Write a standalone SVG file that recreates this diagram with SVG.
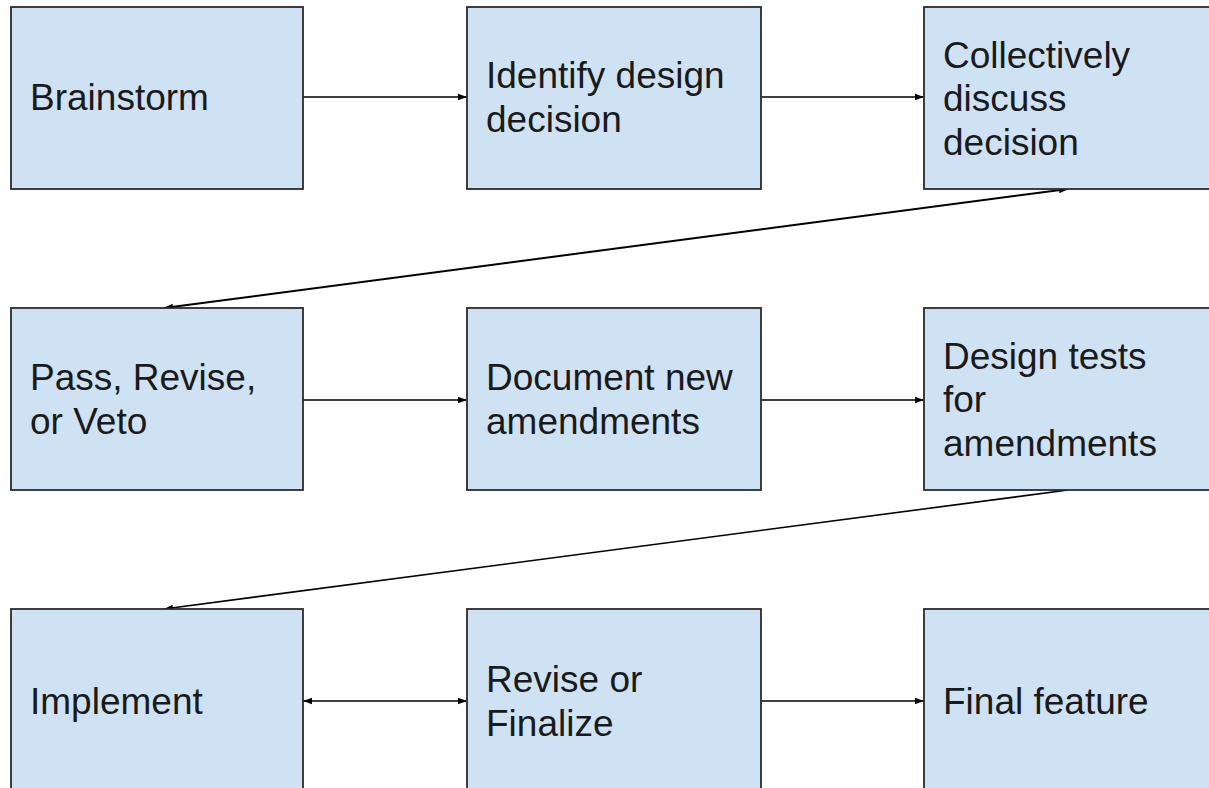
<svg xmlns="http://www.w3.org/2000/svg" width="1209" height="788" viewBox="0 0 1209 788">
<defs>
<style>
.box{fill:#cfe2f3;stroke:#2b2b2b;stroke-width:1.8}
.t{font-family:"Liberation Sans",Arial,sans-serif;font-size:37px;fill:#1a1a1a}
.c{fill:none;stroke:#000;stroke-width:1.6}
</style>
<marker id="ah" viewBox="0 0 10 10" refX="10" refY="5" markerWidth="10" markerHeight="9" orient="auto-start-reverse" markerUnits="userSpaceOnUse">
<path d="M0,1.5 L10,5 L0,8.5 z" fill="#000"/>
</marker>
</defs>
<rect width="1209" height="788" fill="#fff"/>
<g id="connectors">
<line class="c" x1="303" y1="97" x2="467" y2="97" marker-end="url(#ah)"/>
<line class="c" x1="761" y1="97" x2="924" y2="97" marker-end="url(#ah)"/>
<line class="c" style="stroke-width:2" x1="1068" y1="189" x2="164" y2="308" marker-start="url(#ah)" marker-end="url(#ah)"/>
<line class="c" x1="303" y1="400" x2="467" y2="400" marker-end="url(#ah)"/>
<line class="c" x1="761" y1="400" x2="924" y2="400" marker-end="url(#ah)"/>
<line class="c" x1="1068" y1="490" x2="164" y2="609" marker-end="url(#ah)"/>
<line class="c" x1="303" y1="701" x2="467" y2="701" marker-start="url(#ah)" marker-end="url(#ah)"/>
<line class="c" x1="761" y1="701" x2="924" y2="701" marker-end="url(#ah)"/>
</g>
<g id="n1"><rect class="box" x="11" y="7" width="292" height="182"/><text class="t" x="30" y="110">Brainstorm</text></g>
<g id="n2"><rect class="box" x="467" y="7" width="294" height="182"/><text class="t" x="486" y="88">Identify design</text><text class="t" x="486" y="132">decision</text></g>
<g id="n3"><rect class="box" x="924" y="7" width="294" height="182"/><text class="t" x="943" y="68">Collectively</text><text class="t" x="943" y="111">discuss</text><text class="t" x="943" y="155">decision</text></g>
<g id="n4"><rect class="box" x="11" y="308" width="292" height="182"/><text class="t" x="30" y="390">Pass, Revise,</text><text class="t" x="30" y="434">or Veto</text></g>
<g id="n5"><rect class="box" x="467" y="308" width="294" height="182"/><text class="t" x="486" y="390">Document new</text><text class="t" x="486" y="434">amendments</text></g>
<g id="n6"><rect class="box" x="924" y="308" width="294" height="182"/><text class="t" x="943" y="369">Design tests</text><text class="t" x="943" y="412">for</text><text class="t" x="943" y="456">amendments</text></g>
<g id="n7"><rect class="box" x="11" y="609" width="292" height="182"/><text class="t" x="30" y="714">Implement</text></g>
<g id="n8"><rect class="box" x="467" y="609" width="294" height="182"/><text class="t" x="486" y="692">Revise or</text><text class="t" x="486" y="736">Finalize</text></g>
<g id="n9"><rect class="box" x="924" y="609" width="294" height="182"/><text class="t" x="943" y="714">Final feature</text></g>
</svg>
